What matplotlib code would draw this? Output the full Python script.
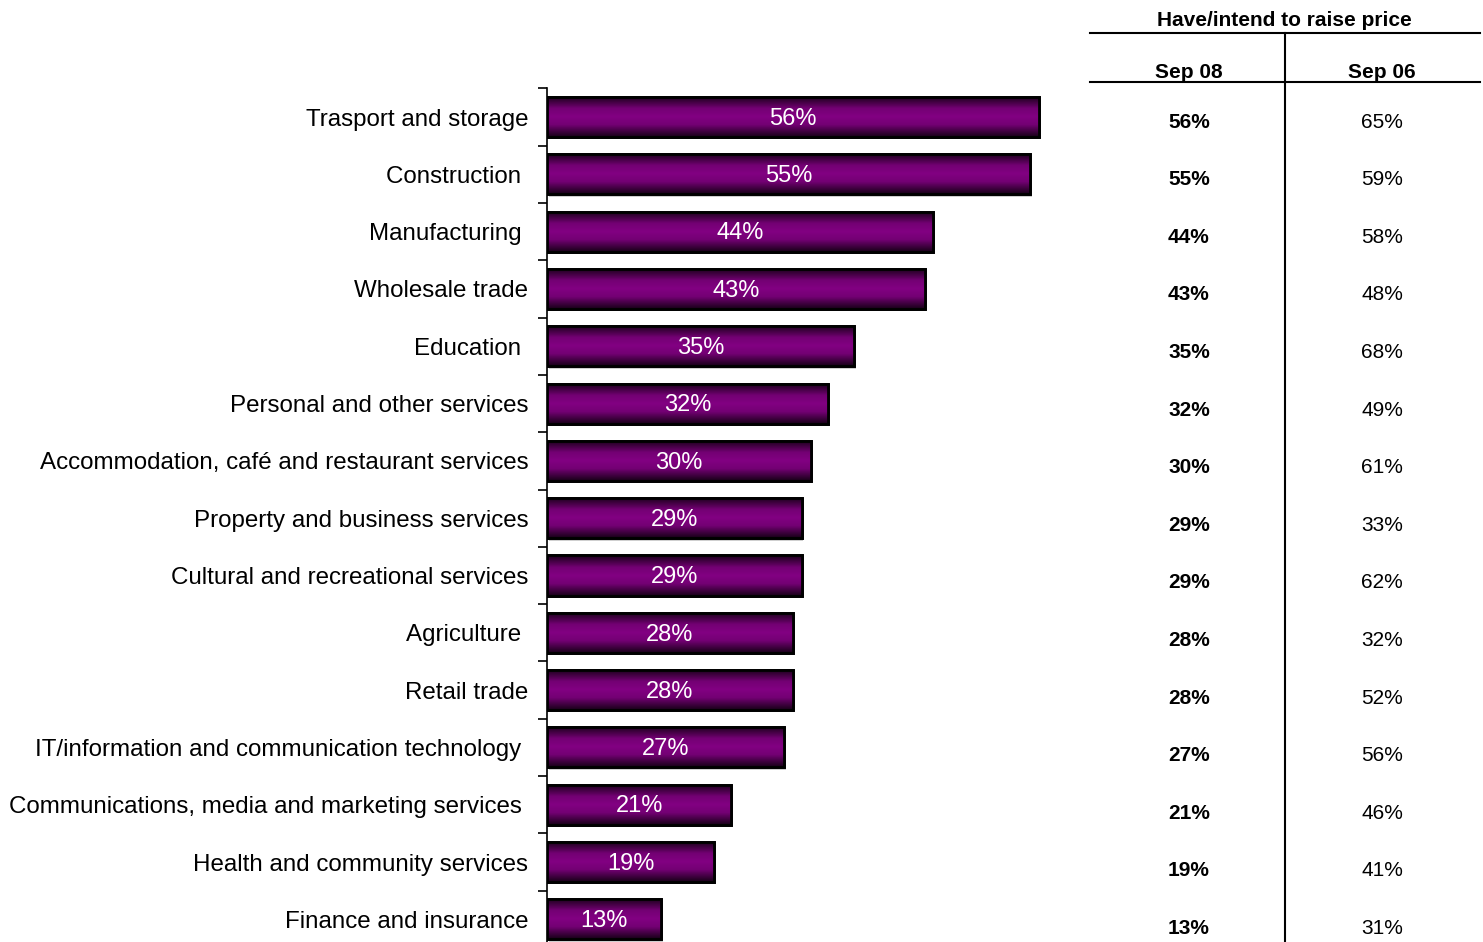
import numpy as np
import matplotlib.pyplot as plt
from matplotlib.colors import LinearSegmentedColormap

plt.rcParams['font.family'] = ['Liberation Sans', 'DejaVu Sans']

# Industries, share that have/intend to raise price
industries = ['Trasport and storage', 'Construction ', 'Manufacturing ', 'Wholesale trade',
              'Education ', 'Personal and other services',
              'Accommodation, café and restaurant services', 'Property and business services',
              'Cultural and recreational services', 'Agriculture ', 'Retail trade',
              'IT/information and communication technology ',
              'Communications, media and marketing services ',
              'Health and community services', 'Finance and insurance']
sep08 = [56, 55, 44, 43, 35, 32, 30, 29, 29, 28, 28, 27, 21, 19, 13]
sep06 = [65, 59, 58, 48, 68, 49, 61, 33, 62, 32, 52, 56, 46, 41, 31]

W, H = 1483, 942
fig = plt.figure(figsize=(W / 100, H / 100), dpi=100)
ax = fig.add_axes([547 / W, 1 - 948 / H, 527 / W, 859.6 / H])

ypos = np.arange(len(industries))
bars = ax.barh(ypos, sep08, height=0.7, color='#800080', edgecolor='black', linewidth=2, zorder=3)

# dark-edged vertical gradient inside each bar
grad_cmap = LinearSegmentedColormap.from_list(
    'bar', [(0, '#180018'), (0.3, '#740074'), (0.5, '#820082'), (0.7, '#740074'), (1, '#180018')])
grad = np.linspace(0, 1, 64).reshape(-1, 1)
for b in bars:
    x0, y0, w, h = b.get_x(), b.get_y(), b.get_width(), b.get_height()
    # soft grey shadow
    ax.add_patch(plt.Rectangle((x0 + 0.2, y0 + 0.04), w, h, color='#cfcfcf', zorder=2, lw=0))
    im = ax.imshow(grad, cmap=grad_cmap, aspect='auto', extent=(x0, x0 + w, y0 + h, y0),
                   interpolation='bilinear', zorder=3.5)
    im.set_clip_path(b)
    ax.add_patch(plt.Rectangle((x0, y0), w, h, fill=False, ec='black', lw=2, zorder=4))
    ax.text(x0 + w / 2, y0 + h / 2 + 0.03, f'{int(w)}%', ha='center', va='center',
            color='white', fontsize=17, zorder=5)

ax.set_xlim(0, 60)
ax.set_ylim(len(industries) - 0.5, -0.5)

ax.set_yticks(np.arange(-0.5, len(industries)), labels=[])
ax.tick_params(axis='y', which='major', length=6.5, width=1.2, direction='out')
ax.set_yticks(ypos, labels=industries, minor=True)
ax.tick_params(axis='y', which='minor', length=0, pad=13.5, labelsize=17.4)
ax.set_xticks([])
for s in ['top', 'right', 'bottom']:
    ax.spines[s].set_visible(False)
ax.spines['left'].set_linewidth(1.2)

# side table: Sep 08 vs Sep 06
def fy(py):
    return 1 - py / H

fig.text(1284 / W, fy(20), 'Have/intend to raise price', ha='center', va='center',
         fontsize=15, fontweight='bold')
fig.add_artist(plt.Line2D([1090 / W, 1480 / W], [fy(33), fy(33)], color='black', lw=1.5))
fig.add_artist(plt.Line2D([1090 / W, 1480 / W], [fy(82), fy(82)], color='black', lw=1.5))
fig.add_artist(plt.Line2D([1285 / W, 1285 / W], [fy(33), 0], color='black', lw=1.5))
fig.text(1189 / W, fy(72), 'Sep 08', ha='center', va='center', fontsize=15, fontweight='bold')
fig.text(1382 / W, fy(72), 'Sep 06', ha='center', va='center', fontsize=15, fontweight='bold')
for i, (a, b) in enumerate(zip(sep08, sep06)):
    py = 122 + i * 57.6
    fig.text(1189 / W, fy(py), f'{a}%', ha='center', va='center', fontsize=15, fontweight='bold')
    fig.text(1382 / W, fy(py), f'{b}%', ha='center', va='center', fontsize=15)

fig.savefig('out.png', dpi=100)
